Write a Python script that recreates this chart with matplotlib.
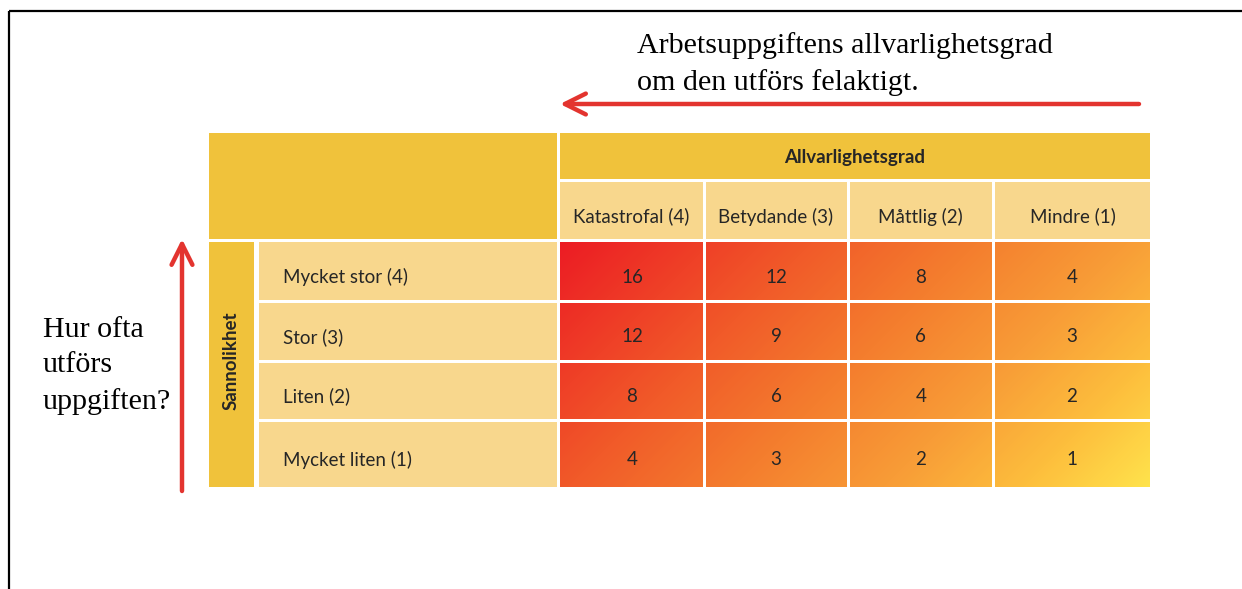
import matplotlib
matplotlib.use('Agg')
import matplotlib.pyplot as plt
import numpy as np
from matplotlib.colors import LinearSegmentedColormap
from matplotlib.patches import Rectangle

# Data
col_title = "Allvarlighetsgrad"
row_title = "Sannolikhet"
col_labels = ["Katastrofal (4)", "Betydande (3)", "Måttlig (2)", "Mindre (1)"]
row_labels = ["Mycket stor (4)", "Stor (3)", "Liten (2)", "Mycket liten (1)"]
risk_values = [
    [16, 12, 8, 4],
    [12, 9, 6, 3],
    [8, 6, 4, 2],
    [4, 3, 2, 1],
]
top_note = "Arbetsuppgiftens allvarlighetsgrad\nom den utförs felaktigt."
left_note = "Hur ofta\nutförs\nuppgiften?"

# Farger
dark_yellow = '#F0C23B'
light_yellow = '#F8D78D'
arrow_red = '#E3342F'
text_dark = '#262626'
cmap = LinearSegmentedColormap.from_list('risk', [
    (0.0, '#EC1C24'), (0.3, '#F15A29'), (0.5, '#F47E2E'),
    (0.68, '#F89C37'), (0.85, '#FDBF3D'), (1.0, '#FFE34C')])

table_font = ['Lato', 'DejaVu Sans']
serif_font = ['Liberation Serif', 'DejaVu Serif']
fs = 13.5

# Layout i pixlar
W, H = 1242, 589
fig = plt.figure(figsize=(W / 100, H / 100), dpi=100)
ax = fig.add_axes([0, 0, 1, 1])
ax.set_xlim(0, W)
ax.set_ylim(H, 0)
ax.axis('off')

col_edges = [560, 704, 848, 993.5, 1150]
row_edges = [242, 301, 361, 420, 487]
hdr_top, hdr_bot = 133, 179
colhdr_top, colhdr_bot = 182, 239
band_left, band_right = 209, 254
label_left, label_right = 259, 557
gap = 3


def box(x0, x1, y0, y1, color):
    ax.add_patch(Rectangle((x0, y0), x1 - x0, y1 - y0, facecolor=color, edgecolor='none'))


# ram
ax.plot([9, W], [11, 11], color='black', lw=1.6, solid_capstyle='butt')
ax.plot([9, 9], [11, H], color='black', lw=1.6, solid_capstyle='butt')

# rubrikblock
box(band_left, label_right, hdr_top, colhdr_bot, dark_yellow)
box(col_edges[0], col_edges[-1], hdr_top, hdr_bot, dark_yellow)
ax.text((col_edges[0] + col_edges[-1]) / 2, (hdr_top + hdr_bot) / 2 + 1, col_title,
        ha='center', va='center', fontsize=fs, fontweight='bold', color=text_dark, family=table_font)

# kolumnrubriker
for j, lab in enumerate(col_labels):
    x0 = col_edges[j] + (gap / 2 if j > 0 else 0)
    x1 = col_edges[j + 1] - (gap / 2 if j < 3 else 0)
    box(x0, x1, colhdr_top, colhdr_bot, light_yellow)
    ax.text((x0 + x1) / 2, (colhdr_top + colhdr_bot) / 2 + 6, lab,
            ha='center', va='center', fontsize=fs, color=text_dark, family=table_font)

# sannolikhet-band
box(band_left, band_right, row_edges[0], row_edges[-1], dark_yellow)
ax.text((band_left + band_right) / 2, (row_edges[0] + row_edges[-1]) / 2 - 4, row_title,
        ha='center', va='center', rotation=90, fontsize=13.5, fontweight='bold',
        color=text_dark, family=table_font)

# radrubriker
for i, lab in enumerate(row_labels):
    y0 = row_edges[i] + (gap / 2 if i > 0 else 0)
    y1 = row_edges[i + 1] - (gap / 2 if i < 3 else 0)
    box(label_left, label_right, y0, y1, light_yellow)
    ax.text(label_left + 24, (y0 + y1) / 2 + 6, lab,
            ha='left', va='center', fontsize=fs, color=text_dark, family=table_font)

# gradient i matrisen
bx0, bx1, by0, by1 = col_edges[0], col_edges[-1], row_edges[0], row_edges[-1]
gx, gy = np.meshgrid(np.arange(bx0, bx1), np.arange(by0, by1))
t = ((gx - bx0) + (gy - by0)) / ((bx1 - bx0) + (by1 - by0))
ax.imshow(t, cmap=cmap, vmin=0, vmax=1, extent=[bx0, bx1, by1, by0], origin='upper',
          interpolation='bilinear', aspect='auto', zorder=1)

# vita skiljelinjer
for xe in col_edges[1:-1]:
    ax.add_patch(Rectangle((xe - gap / 2, colhdr_top), gap, by1 - colhdr_top,
                           facecolor='white', edgecolor='none', zorder=2))
for ye in row_edges[1:-1]:
    ax.add_patch(Rectangle((label_left, ye - gap / 2), bx1 - label_left, gap,
                           facecolor='white', edgecolor='none', zorder=2))

# varden
for i in range(len(row_labels)):
    for j in range(len(col_labels)):
        cx = (col_edges[j] + col_edges[j + 1]) / 2
        cy = (row_edges[i] + row_edges[i + 1]) / 2 + 6
        ax.text(cx, cy, str(risk_values[i][j]), ha='center', va='center', fontsize=fs,
                color=text_dark, family=table_font, zorder=3)

# pilar
ax.annotate('', xy=(col_edges[0], 104), xytext=(1139, 104),
            arrowprops=dict(arrowstyle='->,head_length=1.5,head_width=0.75', color=arrow_red,
                            lw=3.2, mutation_scale=10, shrinkA=0, shrinkB=0))
ax.annotate('', xy=(182, 239), xytext=(182, 491),
            arrowprops=dict(arrowstyle='->,head_length=1.5,head_width=0.75', color=arrow_red,
                            lw=3.2, mutation_scale=10, shrinkA=0, shrinkB=0))

# anteckningar
ax.text(637, 64, top_note, ha='left', va='center', fontsize=21.6, color='black',
        family=serif_font, linespacing=1.45)
ax.text(43, 366, left_note, ha='left', va='center', fontsize=21.6, color='black',
        family=serif_font, linespacing=1.45)

plt.savefig('out.png', dpi=100)
plt.close()
